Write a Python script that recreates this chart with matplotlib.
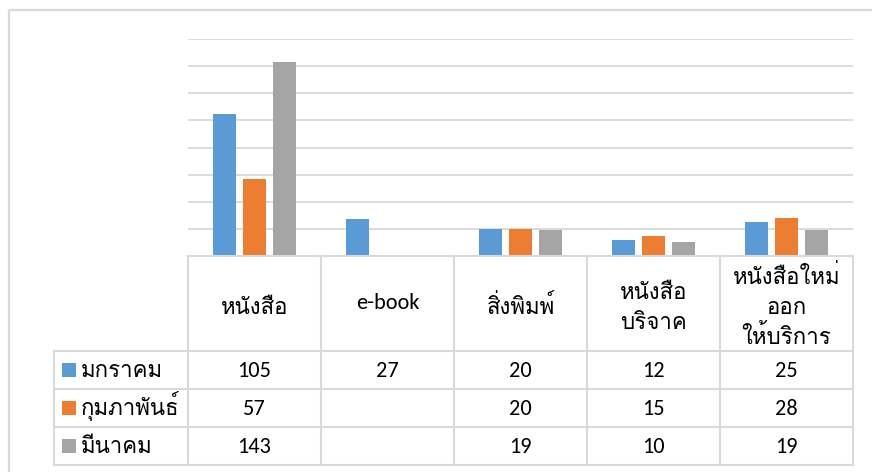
import matplotlib
matplotlib.use("Agg")
import matplotlib.pyplot as plt
import numpy as np

# ---- data ----
categories = ["หนังสือ", "e-book", "สิ่งพิมพ์", "หนังสือ\nบริจาค", "หนังสือใหม่\nออก\nให้บริการ"]
series_names = ["มกราคม", "กุมภาพันธ์", "มีนาคม"]
jan = [105, 27, 20, 12, 25]
feb = [57, None, 20, 15, 28]
mar = [143, None, 19, 10, 19]
colors = ["#5B9BD5", "#ED7D31", "#A5A5A5"]
y_ticks = [0, 20, 40, 60, 80, 100, 120, 140, 160]

FONT = ["Carlito", "Loma", "Sarabun", "DejaVu Sans"]
plt.rcParams["font.family"] = FONT
GRID = "#d9d9d9"

W, H = 872, 472
fig = plt.figure(figsize=(W / 100, H / 100), dpi=100)

# chart plot area in pixel coordinates
x0, x1 = 188, 853
ybase, ytop = 256, 39
ax = fig.add_axes([x0 / W, 1 - ybase / H, (x1 - x0) / W, (ybase - ytop) / H])
ax.set_xlim(-0.5, len(categories) - 0.5)
ax.set_ylim(y_ticks[0], y_ticks[-1])
ax.set_yticks(y_ticks)
ax.yaxis.grid(True, color=GRID, linewidth=1.3)
ax.set_axisbelow(True)
for s in ax.spines.values():
    s.set_visible(False)
ax.tick_params(left=False, bottom=False, labelleft=False, labelbottom=False)

series = [jan, feb, mar]
bw = 23 / 133
step = 30 / 133
x = np.arange(len(categories))
for i, (vals, c) in enumerate(zip(series, colors)):
    v = np.array([np.nan if a is None else a for a in vals], dtype=float)
    ax.bar(x + (i - 1) * step, v, width=bw, color=c, zorder=3)

# overlay for border and data table
ov = fig.add_axes([0, 0, 1, 1], zorder=5)
ov.set_xlim(0, W)
ov.set_ylim(H, 0)
ov.axis("off")
ov.patch.set_alpha(0)

# chart border (top & left)
ov.plot([9, W], [10, 10], color=GRID, lw=1.6, solid_capstyle="butt")
ov.plot([9, 9], [10, H], color=GRID, lw=1.6, solid_capstyle="butt")

col_x = [188, 321, 454, 587, 720, 853]
leg_x = 54
row_y = [256, 351, 389, 427, 465]
lw = 1.5
# horizontal lines
ov.plot([col_x[0], col_x[-1]], [row_y[0]] * 2, color=GRID, lw=lw)
for yy in row_y[1:]:
    ov.plot([leg_x, col_x[-1]], [yy] * 2, color=GRID, lw=lw)
# vertical lines
for xx in col_x:
    ov.plot([xx, xx], [row_y[0], row_y[-1]], color=GRID, lw=lw)
ov.plot([leg_x, leg_x], [row_y[1], row_y[-1]], color=GRID, lw=lw)

fs = 16
fs_th = 16
# header
for j, cat in enumerate(categories):
    cx = (col_x[j] + col_x[j + 1]) / 2
    lines = cat.split("\n")
    n = len(lines)
    base = 314 - (n - 1) * 15
    for k, ln in enumerate(lines):
        by = base + k * 30
        size = fs_th
        if ln.isascii():
            by -= 5
            size = fs
        ov.text(cx, by, ln, ha="center", va="baseline", fontsize=size, color="black")

# data rows
row_base = [377, 415, 453]
for i, (name, vals, c) in enumerate(zip(series_names, series, colors)):
    by = row_base[i]
    ov.add_patch(plt.Rectangle((62, by - 14), 14, 14, color=c, lw=0))
    ov.text(81, by, name, ha="left", va="baseline", fontsize=fs_th, color="black")
    for j, v in enumerate(vals):
        if v is None:
            continue
        cx = (col_x[j] + col_x[j + 1]) / 2
        ov.text(cx, by, str(v), ha="center", va="baseline", fontsize=fs, color="black")

fig.savefig("out.png", dpi=100)
